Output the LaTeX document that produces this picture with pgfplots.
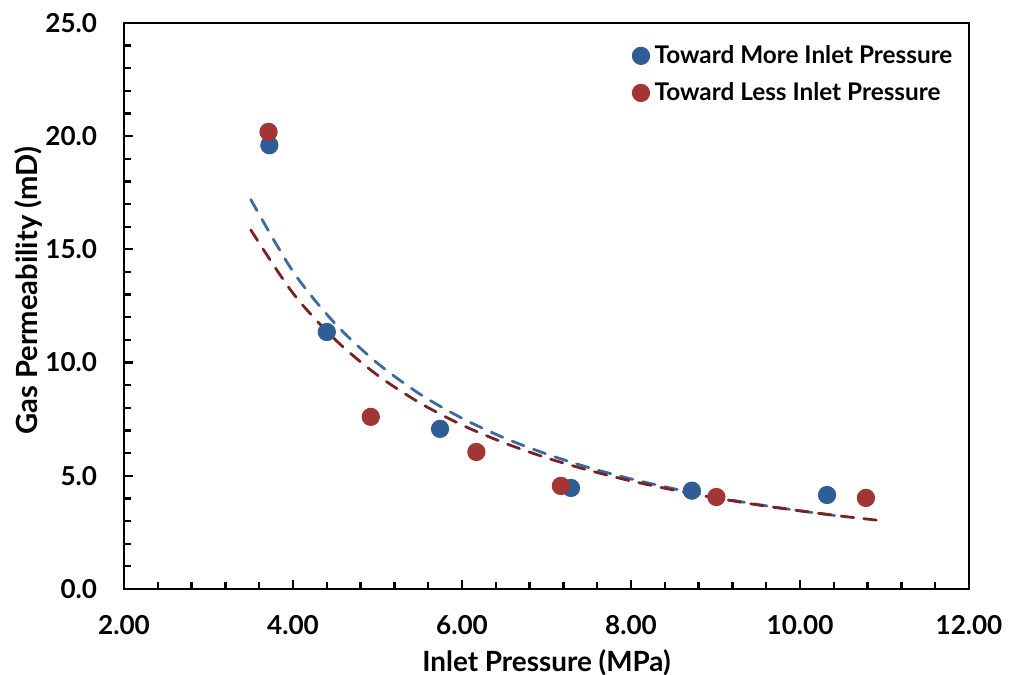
\documentclass[border=0pt]{standalone}
\usepackage{pgfplots}
\pgfplotsset{compat=1.18}
\usepackage{fontspec}
\setmainfont{Lato}

\definecolor{moreblue}{HTML}{2F5D95}
\definecolor{lessred}{HTML}{A33535}
\definecolor{fitblue}{HTML}{3A6AA3}
\definecolor{fitred}{HTML}{7A2222}

\begin{document}
\begin{tikzpicture}
\begin{axis}[
  scale only axis,
  width=11.725cm, height=7.853cm,
  xmin=2, xmax=12, ymin=0, ymax=25,
  xtick={2,4,...,12}, ytick={0,5,...,25},
  minor x tick num=4, minor y tick num=4,
  tick align=inside,
  xtick pos=bottom, ytick pos=left,
  major tick length=0.13cm, minor tick length=0.1cm,
  every tick/.style={black, line width=0.9pt},
  axis line style={line width=1pt},
  /pgf/number format/assume math mode=true,
  ticklabel style={font=\fontsize{10.3}{12}\selectfont\bfseries},
  xticklabel style={/pgf/number format/fixed, /pgf/number format/fixed zerofill,
    /pgf/number format/precision=2, yshift=-0.25cm},
  yticklabel style={/pgf/number format/fixed, /pgf/number format/fixed zerofill,
    /pgf/number format/precision=1, xshift=-0.25cm},
  xlabel={Inlet Pressure (MPa)},
  ylabel={Gas Permeability (mD)},
  every axis x label/.style={at={(axis description cs:0.5,0)}, yshift=-1.03cm, anchor=center,
    font=\fontsize{11}{13}\selectfont\bfseries},
  every axis y label/.style={at={(axis description cs:0,0.5)}, xshift=-1.33cm, yshift=0.21cm,
    rotate=90, anchor=center, font=\fontsize{11.5}{13}\selectfont\bfseries},
  legend style={draw=none, fill=none, at={(rel axis cs:0.592,0.98)}, anchor=north west,
    font=\fontsize{9.6}{11}\selectfont\bfseries, row sep=2pt},
  legend cell align=left,
  legend image code/.code={\draw[#1] plot coordinates {(0.1cm,0cm)};},
]
% measured points
\addplot[only marks, mark=*, mark size=3.4pt, color=moreblue] coordinates {
  (3.72, 19.6) (4.40, 11.35) (5.74, 7.07) (7.29, 4.46) (8.72, 4.34) (10.32, 4.15)
};
\addlegendentry{Toward More Inlet Pressure}
\addplot[only marks, mark=*, mark size=3.4pt, color=lessred] coordinates {
  (3.71, 20.19) (4.92, 7.60) (6.17, 6.05) (7.17, 4.55) (9.01, 4.06) (10.78, 4.02)
};
\addlegendentry{Toward Less Inlet Pressure}

% power trend lines
\addplot[forget plot, smooth, color=fitblue, line width=1.1pt, line cap=round, dash pattern=on 5pt off 4pt] coordinates {
  (3.5, 17.20) (4.0, 14.02) (4.5, 11.71) (5.0, 9.97) (5.5, 8.61) (6.0, 7.54)
  (6.5, 6.67) (7.0, 5.96) (7.5, 5.36) (8.0, 4.86) (8.5, 4.43) (9.0, 4.05)
  (9.5, 3.73) (10.0, 3.45) (10.5, 3.20)
};
\addplot[forget plot, smooth, color=fitred, line width=1.1pt, line cap=round, dash pattern=on 5pt off 4pt] coordinates {
  (3.5, 15.86) (4.0, 13.06) (4.5, 11.01) (5.0, 9.44) (5.5, 8.22) (6.0, 7.24)
  (6.5, 6.45) (7.0, 5.79) (7.5, 5.24) (8.0, 4.77) (8.5, 4.37) (9.0, 4.02)
  (9.5, 3.71) (10.0, 3.45) (10.5, 3.21) (11.0, 3.00)
};
\end{axis}
\pgfresetboundingbox
\useasboundingbox ([xshift=-1.721cm, yshift=-1.193cm]current axis.south west)
  rectangle ([xshift=0.555cm, yshift=0.319cm]current axis.north east);
\end{tikzpicture}
\end{document}
